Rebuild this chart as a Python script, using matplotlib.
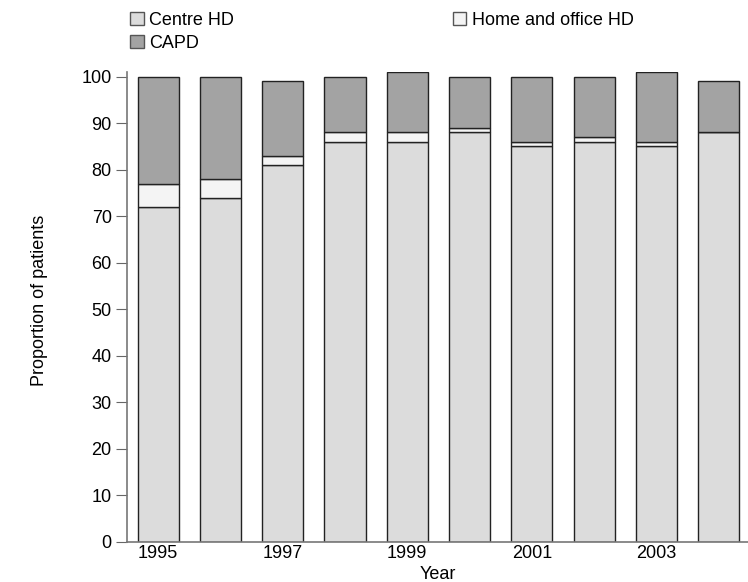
import matplotlib.pyplot as plt
import numpy as np
from matplotlib.patches import Patch

plt.rcParams['font.family'] = ['Liberation Sans', 'DejaVu Sans']

# data (percent of patients)
years = [1995, 1996, 1997, 1998, 1999, 2000, 2001, 2002, 2003, 2004]
centre_hd = [72, 74, 81, 86, 86, 88, 85, 86, 85, 88]
home_hd = [5, 4, 2, 2, 2, 1, 1, 1, 1, 0]
capd = [23, 22, 16, 12, 13, 11, 14, 13, 15, 11]
tick_years = [1995, 1997, 1999, 2001, 2003]

c_centre = '#dcdcdc'
c_home = '#f4f4f4'
c_capd = '#a3a3a3'

fig = plt.figure(figsize=(7.48, 5.82), dpi=100)
ax = fig.add_axes([127 / 748, 40 / 582, 1 - 127 / 748, (542 - 72) / 582])

x = np.array(years)
bottom2 = np.array(centre_hd)
bottom3 = bottom2 + np.array(home_hd)
kw = dict(width=0.66, edgecolor='#222222', linewidth=1.0)
ax.bar(x, centre_hd, color=c_centre, **kw)
ax.bar(x, home_hd, bottom=bottom2, color=c_home, **kw)
ax.bar(x, capd, bottom=bottom3, color=c_capd, **kw)

ax.set_xlim(1994.5, 2004.47)
ax.set_ylim(0, 101)
ax.set_yticks(range(0, 101, 10))
ax.set_xticks(tick_years)
ax.tick_params(axis='y', direction='out', length=8, color='#666666', labelsize=13, pad=3)
ax.tick_params(axis='x', length=0, labelsize=13, pad=2)
for s in ['top', 'right']:
    ax.spines[s].set_visible(False)
for s in ['left', 'bottom']:
    ax.spines[s].set_color('#777777')
    ax.spines[s].set_linewidth(1.2)

ax.set_xlabel('Year', fontsize=13, labelpad=3)
fig.text(40 / 748, 1 - 300 / 582, 'Proportion of patients', rotation=90, fontsize=13,
         ha='center', va='center')

handles = [Patch(facecolor=c_centre, edgecolor='#555555', label='Centre HD'),
           Patch(facecolor=c_capd, edgecolor='#555555', label='CAPD'),
           Patch(facecolor=c_home, edgecolor='#555555', label='Home and office HD')]
fig.legend(handles=handles, ncol=2, loc='upper left', bbox_to_anchor=(116 / 748, 1.005),
           frameon=False, fontsize=13, handlelength=0.75, handleheight=0.75,
           handletextpad=0.3, columnspacing=12.1, labelspacing=0.35, borderpad=0.3)

fig.savefig('out.png', dpi=100)
